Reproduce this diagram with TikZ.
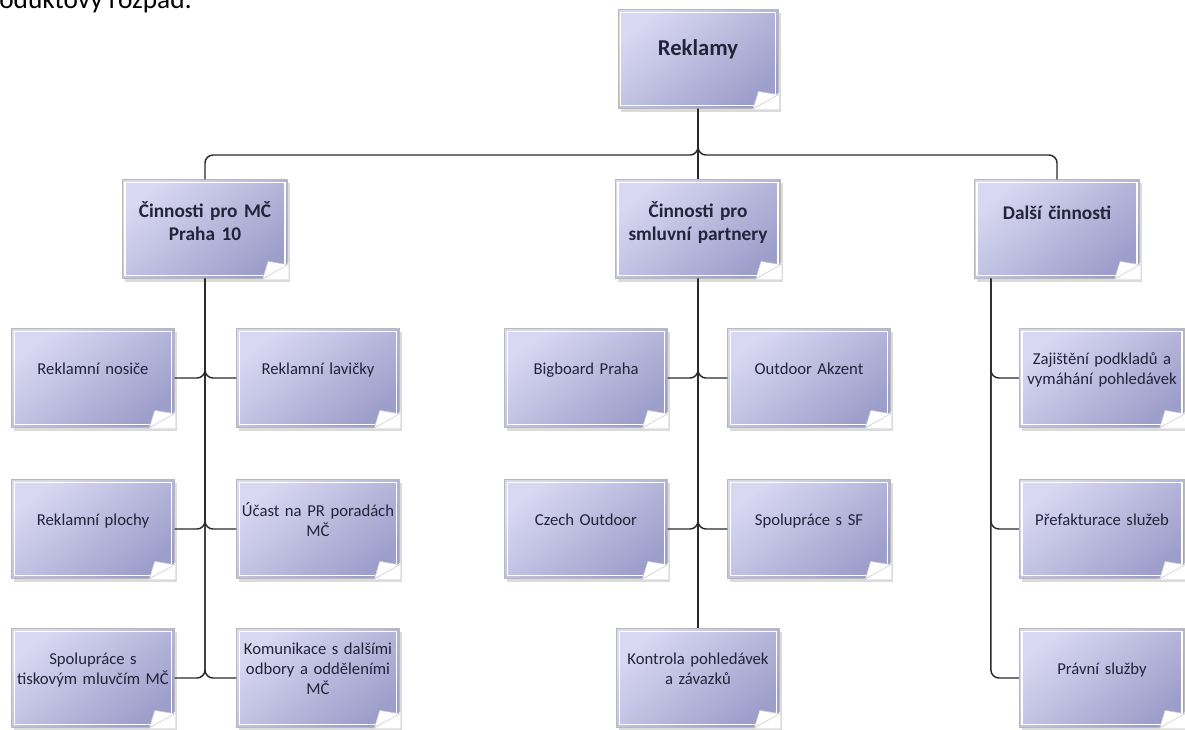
\documentclass[tikz,border=0pt]{standalone}
\usepackage{fontspec}
\setmainfont{Carlito}
\usetikzlibrary{shadows,calc}
\definecolor{boxlight}{HTML}{D8D8F2}
\definecolor{boxdark}{HTML}{9E9ECB}
\definecolor{txt}{HTML}{23233A}
\definecolor{conncol}{HTML}{2A2A2A}
\tikzset{
  note/.style={draw=gray!55, line width=0.6pt, shading=axis,
    top color=boxlight, bottom color=boxdark, shading angle=40,
    drop shadow={shadow xshift=2pt, shadow yshift=-2.5pt, opacity=0.35, fill=gray!80},
    minimum width=122pt, minimum height=74pt, text width=120pt, align=center,
    inner sep=1pt, text=txt, font=\fontsize{12.5}{15}\selectfont},
  one/.style={text depth=14.5pt},
  two/.style={text depth=29.5pt},
  three/.style={text depth=44.5pt},
  lvlone/.style={note, minimum width=124pt, text width=122pt, font=\bfseries\fontsize{14.5}{17}\selectfont},
  lvlonea/.style={lvlone, text depth=25pt},
  lvloneb/.style={lvlone, text depth=29pt},
  lvlzero/.style={note, minimum width=120pt, text width=118pt, font=\bfseries\fontsize{17}{20}\selectfont, text depth=17.5pt},
  conn/.style={draw=conncol, line width=1.1pt, rounded corners=6pt},
  curl/.style={fill=white, draw=gray!40, line width=0.4pt},
}
\newcommand\drawcurl[1]{%
  \draw[white, line width=1pt] ($(#1.north west)+(2.2pt,-2.2pt)$) rectangle ($(#1.south east)+(-2.2pt,2.2pt)$);
  \fill[white] ($(#1.south east)+(-19pt,-0.5pt)$) -- ($(#1.south east)+(0.5pt,-0.5pt)$) -- ($(#1.south east)+(0.5pt,12pt)$) -- cycle;
  \path[curl] ($(#1.south east)+(-19pt,0pt)$) .. controls ($(#1.south east)+(-17pt,6pt)$) .. ($(#1.south east)+(-15pt,13pt)$) -- ($(#1.south east)+(0pt,10.5pt)$) -- cycle;
}
\begin{document}
\begin{tikzpicture}[x=0.75pt, y=-0.75pt]
\useasboundingbox (0,0) rectangle (1185,729);
\clip (0,0) rectangle (1185,729);

\node[anchor=base west, inner sep=0pt, font=\fontsize{20.5}{24}\selectfont] (title) at (-1,8.5) {oduktový rozpad:};

% level 0
\node[lvlzero] (rek) at (698,59) {Reklamy};
% level 1
\node[lvloneb] (c1) at (205,229) {Činnosti pro MČ\\Praha 10};
\node[lvloneb] (c2) at (698,229) {Činnosti pro\\smluvní partnery};
\node[lvlonea] (c3) at (1057,229) {Další činnosti};

% left group
\node[note, one] (a1) at (93,378) {Reklamní nosiče};
\node[note, one] (a2) at (318,378) {Reklamní lavičky};
\node[note, one] (a3) at (93,529) {Reklamní plochy};
\node[note, two] (a4) at (318,529) {Účast na PR poradách\\MČ};
\node[note, two] (a5) at (93,678) {Spolupráce s\\tiskovým mluvčím MČ};
\node[note, three] (a6) at (318,678) {Komunikace s dalšími\\odbory a odděleními\\MČ};

% middle group
\node[note, one] (b1) at (586,378) {Bigboard Praha};
\node[note, one] (b2) at (809,378) {Outdoor Akzent};
\node[note, one] (b3) at (586,529) {Czech Outdoor};
\node[note, one] (b4) at (809,529) {Spolupráce s SF};
\node[note, two] (b5) at (698,678) {Kontrola pohledávek\\a závazků};

% right group
\node[note, two, minimum width=124pt] (d1) at (1102,378) {Zajištění podkladů a\\vymáhání pohledávek};
\node[note, one, minimum width=124pt] (d2) at (1102,529) {Přefakturace služeb};
\node[note, one, minimum width=124pt] (d3) at (1102,678) {Právní služby};

\foreach \n in {rek,c1,c2,c3,a1,a2,a3,a4,a5,a6,b1,b2,b3,b4,b5,d1,d2,d3} {\drawcurl{\n}}

% connectors
\coordinate (bus) at (698,155);
\draw[conn] (rek.south) -- (bus) -| (c1.north);
\draw[conn] (rek.south) -- (bus) -| (c3.north);
\draw[conn] (rek.south) -- (c2.north);

\foreach \ch in {a1,a3,a5} {\draw[conn] (c1.south) |- (\ch.east);}
\foreach \ch in {a2,a4,a6} {\draw[conn] (c1.south) |- (\ch.west);}

\foreach \ch in {b1,b3} {\draw[conn] (c2.south) |- (\ch.east);}
\foreach \ch in {b2,b4} {\draw[conn] (c2.south) |- (\ch.west);}
\draw[conn] (c2.south) -- (b5.north);

\coordinate (c3bus) at ($(c3.south west)+(17,0)$);
\foreach \ch in {d1,d2,d3} {\draw[conn] (c3bus) |- (\ch.west);}
\end{tikzpicture}
\end{document}
